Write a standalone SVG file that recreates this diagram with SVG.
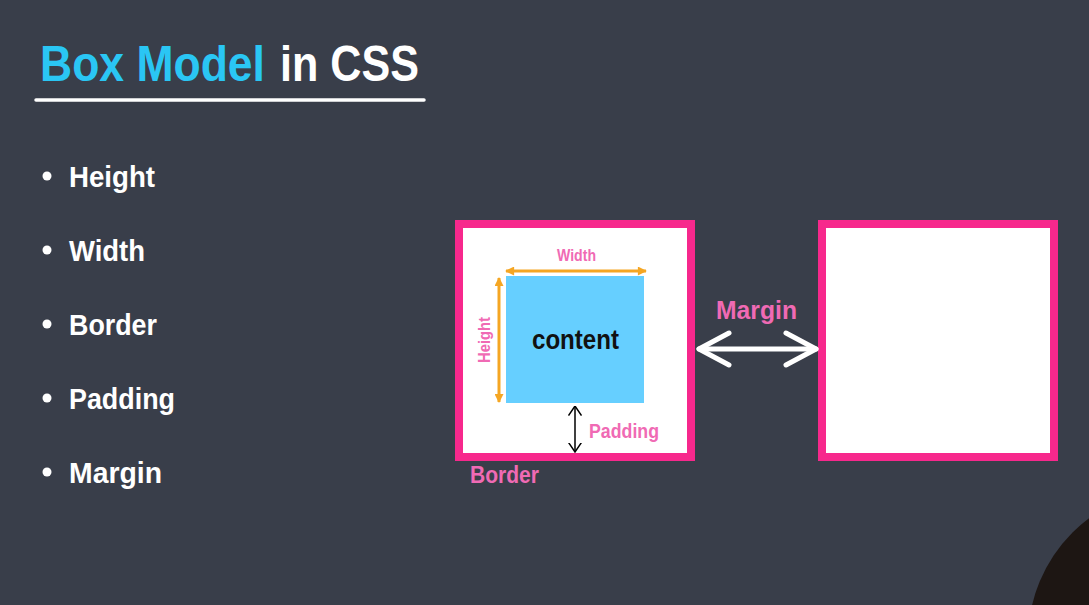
<svg xmlns="http://www.w3.org/2000/svg" width="1089" height="605" viewBox="0 0 1089 605">
<style>
.t{font-family:"Liberation Sans",Arial,sans-serif;font-weight:bold}
.w{fill:#ffffff}
.pk{fill:#f06ab4}
.bul{fill:#ffffff}
</style>
<defs>
<marker id="oa" viewBox="0 0 10 10" refX="9" refY="5" markerWidth="10" markerHeight="9" markerUnits="userSpaceOnUse" orient="auto-start-reverse"><path d="M0,0 L10,5 L0,10 Z" fill="#f5a623"/></marker>
<marker id="ba" viewBox="0 0 10 14" refX="9.5" refY="7" markerWidth="10" markerHeight="14" markerUnits="userSpaceOnUse" orient="auto-start-reverse"><path d="M0,0.5 L9.5,7 L0,13.5" fill="none" stroke="#000" stroke-width="1.5"/></marker>
</defs>
<rect width="1089" height="605" fill="#393e4a"/>
<circle cx="1180" cy="640" r="152" fill="#1d1613"/>
<g id="title">
<text class="t" x="40" y="81" font-size="50" fill="#2ac6f4" textLength="225" lengthAdjust="spacingAndGlyphs">Box Model</text>
<text class="t w" x="280" y="81" font-size="50" textLength="139" lengthAdjust="spacingAndGlyphs">in CSS</text>
<line x1="36" y1="100" x2="424" y2="100" stroke="#ffffff" stroke-width="3.5" stroke-linecap="round"/>
</g>
<g id="bullets">
<circle class="bul" cx="47" cy="176" r="4.5"/>
<text class="t w" x="69" y="187" font-size="30" textLength="86" lengthAdjust="spacingAndGlyphs">Height</text>
<circle class="bul" cx="47" cy="250" r="4.5"/>
<text class="t w" x="69" y="261" font-size="30" textLength="76" lengthAdjust="spacingAndGlyphs">Width</text>
<circle class="bul" cx="47" cy="324" r="4.5"/>
<text class="t w" x="69" y="335" font-size="30" textLength="88" lengthAdjust="spacingAndGlyphs">Border</text>
<circle class="bul" cx="47" cy="398" r="4.5"/>
<text class="t w" x="69" y="409" font-size="30" textLength="106" lengthAdjust="spacingAndGlyphs">Padding</text>
<circle class="bul" cx="47" cy="472" r="4.5"/>
<text class="t w" x="69" y="483" font-size="30" textLength="93" lengthAdjust="spacingAndGlyphs">Margin</text>
</g>
<g id="box1">
<rect x="459" y="224" width="232" height="233" fill="#ffffff" stroke="#f7288c" stroke-width="8"/>
<rect x="506" y="276" width="138" height="127" fill="#66cfff"/>
<text class="t" x="575.5" y="349" font-size="28" fill="#111" text-anchor="middle" textLength="87" lengthAdjust="spacingAndGlyphs">content</text>
<text class="t pk" x="576.5" y="261" font-size="16" text-anchor="middle" textLength="39" lengthAdjust="spacingAndGlyphs">Width</text>
<text class="t pk" transform="translate(490,340) rotate(-90)" x="0" y="0" font-size="17" text-anchor="middle" textLength="46" lengthAdjust="spacingAndGlyphs">Height</text>
<text class="t pk" x="589" y="438" font-size="21" textLength="70" lengthAdjust="spacingAndGlyphs">Padding</text>
</g>
<g id="border-label">
<text class="t pk" x="470" y="483" font-size="23" textLength="69" lengthAdjust="spacingAndGlyphs">Border</text>
</g>
<g id="box2">
<rect x="822" y="224" width="232" height="233" fill="#ffffff" stroke="#f7288c" stroke-width="8"/>
</g>
<g id="margin-label">
<text class="t pk" x="756.5" y="319" font-size="26" text-anchor="middle" textLength="81" lengthAdjust="spacingAndGlyphs">Margin</text>
</g>
<g id="connectors">
<line x1="506" y1="271" x2="646" y2="271" stroke="#f5a623" stroke-width="3" marker-start="url(#oa)" marker-end="url(#oa)"/>
<line x1="499" y1="278" x2="499" y2="402" stroke="#f5a623" stroke-width="3" marker-start="url(#oa)" marker-end="url(#oa)"/>
<line x1="575" y1="406" x2="575" y2="452" stroke="#000" stroke-width="1.5" marker-start="url(#ba)" marker-end="url(#ba)"/>
<g fill="none" stroke="#ffffff" stroke-width="5" stroke-linecap="round" stroke-linejoin="round">
<line x1="699" y1="349" x2="816" y2="349"/>
<polyline points="729,333 699,349 729,365"/>
<polyline points="786,333 816,349 786,365"/>
</g>
</g>
</svg>
